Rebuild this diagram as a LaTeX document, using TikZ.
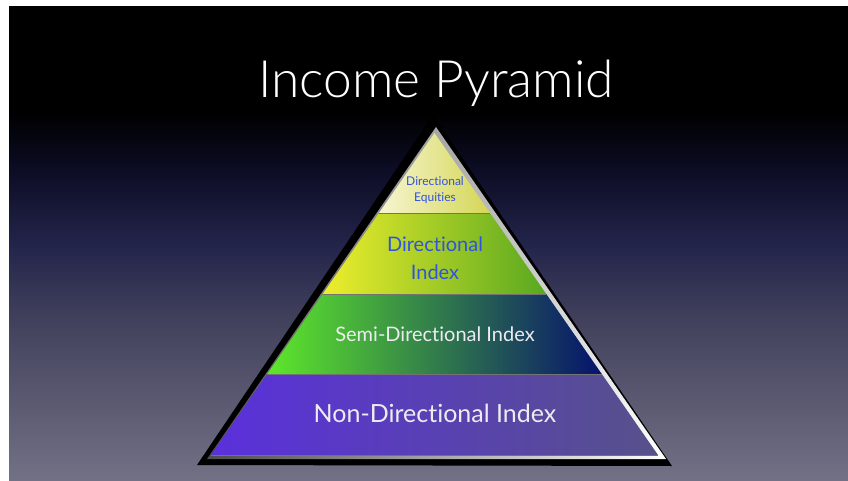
\documentclass[tikz,border=0pt]{standalone}
\usepackage{fontspec}
\setmainfont{Lato}[Ligatures=NoCommon]
\newfontfamily\thinfont{Lato Light}[Ligatures=NoCommon]
\usetikzlibrary{calc}

\definecolor{bgbot}{HTML}{737185}
\definecolor{bglow}{HTML}{45445F}
\definecolor{bgmid}{HTML}{23244A}
\definecolor{bghigh}{HTML}{0C0C24}
\definecolor{eqleft}{HTML}{F7F5D2}
\definecolor{eqright}{HTML}{D4D655}
\definecolor{dirleft}{HTML}{EEEE2C}
\definecolor{dirright}{HTML}{58A820}
\definecolor{semileft}{HTML}{5EE82A}
\definecolor{semimid}{HTML}{2F7A3E}
\definecolor{semiright}{HTML}{06126C}
\definecolor{nonleft}{HTML}{5A30DC}
\definecolor{nonright}{HTML}{57518A}
\definecolor{labelblue}{HTML}{2F52E2}
\definecolor{labelwhite}{HTML}{ECECF2}

\pgfdeclareverticalshading{slidebg}{100bp}{color(0bp)=(bgbot); color(25bp)=(bgbot);
  color(41bp)=(bglow); color(50bp)=(bgmid); color(58bp)=(bghigh); color(64bp)=(black);
  color(75bp)=(black); color(100bp)=(black)}

\begin{document}
\begin{tikzpicture}[x=1pt, y=-1pt,
  lbl/.style={align=center, inner sep=0pt},
  bluelbl/.style={lbl, text=labelblue},
  whitelbl/.style={lbl, text=labelwhite},
  sep/.style={draw=black!55, line width=0.8pt}]
  \useasboundingbox (0,0) rectangle (848,481);
  \fill[white] (0,0) rectangle (848,481);
  \shade[shading=slidebg] (9,7) rectangle (848,481);

  % frame
  \fill[black] (433,115) -- (197,465) -- (672,466) -- cycle;
  \shade[left color=black!70, right color=white] (436,127) -- (207,459) -- (666,459) -- cycle;

  % layers
  \coordinate (apex) at (434.5,133);
  \coordinate (bl) at (211,455);
  \coordinate (br) at (658,455);
  \coordinate (l1) at ($(apex)!0.25!(bl)$);
  \coordinate (r1) at ($(apex)!0.25!(br)$);
  \coordinate (l2) at ($(apex)!0.5!(bl)$);
  \coordinate (r2) at ($(apex)!0.5!(br)$);
  \coordinate (l3) at ($(apex)!0.75!(bl)$);
  \coordinate (r3) at ($(apex)!0.75!(br)$);
  \shade[left color=eqleft, right color=eqright] (apex) -- (l1) -- (r1) -- cycle;
  \shade[left color=dirleft, right color=dirright] (l1) -- (l2) -- (r2) -- (r1) -- cycle;
  \shade[left color=semileft, middle color=semimid, right color=semiright] (l2) -- (l3) -- (r3) -- (r2) -- cycle;
  \shade[left color=nonleft, right color=nonright] (l3) -- (bl) -- (br) -- (r3) -- cycle;
  \draw[sep] (l1) -- (r1);
  \draw[sep] (l2) -- (r2);
  \draw[sep] (l3) -- (r3);
  \draw[sep] (bl) -- (br);

  % labels
  \node[lbl, text=white, anchor=base, font=\thinfont\fontsize{51.5}{58}\selectfont] (title) at (436,98) {Income Pyramid};
  \node[bluelbl, font=\fontsize{12}{16.5}\selectfont] (equities) at (435,190) {Directional\\Equities};
  \node[bluelbl, font=\fontsize{20}{28}\selectfont] (dirindex) at (435,258) {Directional\\Index};
  \node[whitelbl, font=\fontsize{20}{24}\selectfont] (semiindex) at (435,334) {Semi-Directional Index};
  \node[whitelbl, font=\fontsize{25}{30}\selectfont] (nonindex) at (435,413) {Non-Directional Index};
\end{tikzpicture}
\end{document}
